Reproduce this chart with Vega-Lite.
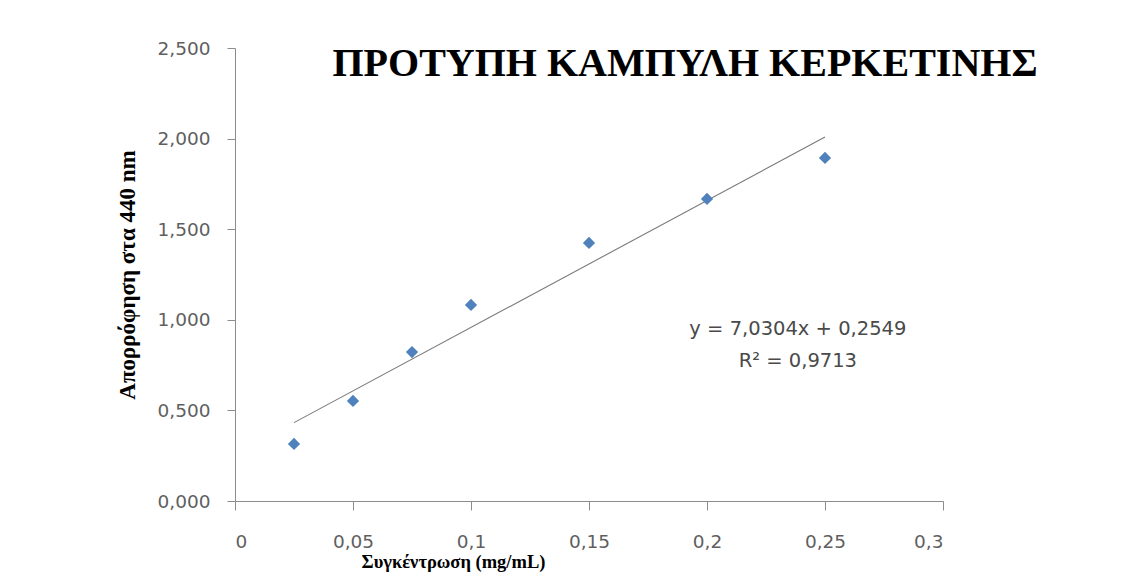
{
  "$schema": "https://vega.github.io/schema/vega-lite/v6.json",
  "width": 708,
  "height": 453,
  "autosize": {"type": "none"},
  "padding": {"left": 235, "top": 48, "right": 191, "bottom": 75},
  "background": "white",
  "config": {
    "locale": {"number": {"decimal": ",", "thousands": ".", "grouping": [3], "currency": ["", " €"]}},
    "view": {"stroke": null},
    "axis": {"grid": false, "domainColor": "#8c8c8c", "tickColor": "#8c8c8c", "labelColor": "#5f5f5f", "labelFont": "DejaVu Sans", "labelFontSize": 18.5, "titleFont": "Liberation Serif", "titleFontWeight": "bold", "titleColor": "#000000"}
  },
  "title": {
    "text": "ΠΡΟΤΥΠΗ ΚΑΜΠΥΛΗ ΚΕΡΚΕΤΙΝΗΣ",
    "font": "Liberation Serif",
    "fontSize": 40,
    "fontWeight": "bold",
    "color": "#000000",
    "anchor": "middle",
    "frame": "group",
    "baseline": "top",
    "offset": -45,
    "dx": 96
  },
  "data": {
    "values": [
      {"c": 0.025, "a": 0.315},
      {"c": 0.05, "a": 0.552},
      {"c": 0.075, "a": 0.822},
      {"c": 0.1, "a": 1.082},
      {"c": 0.15, "a": 1.424},
      {"c": 0.2, "a": 1.667},
      {"c": 0.25, "a": 1.893}
    ]
  },
  "encoding": {
    "x": {"field": "c", "type": "quantitative", "scale": {"domain": [0, 0.3], "nice": false, "zero": true},
      "axis": {"values": [0, 0.05, 0.1, 0.15, 0.2, 0.25, 0.3], "format": "~g", "tickSize": 9, "labelPadding": 22, "title": "Συγκέντρωση (mg/mL)", "titleFontSize": 18.5, "titlePadding": 2, "titleX": 218, "titleAnchor": "middle"}},
    "y": {"field": "a", "type": "quantitative", "scale": {"domain": [0, 2.5], "nice": false},
      "axis": {"values": [0, 0.5, 1, 1.5, 2, 2.5], "format": ".3f", "tickSize": 8, "labelPadding": 17, "title": "Απορρόφηση στα 440 nm", "titleFontSize": 23, "titlePadding": 18}}
  },
  "layer": [
    {
      "transform": [{"regression": "a", "on": "c"}],
      "mark": {"type": "line", "color": "#7a7a7a", "strokeWidth": 1.1},
      "encoding": {}
    },
    {
      "mark": {"type": "point", "shape": "diamond", "filled": true, "color": "#4F81BD", "size": 150, "opacity": 1}
    },
    {
      "data": {"values": [{"c": 0.2385, "a": 0.947, "t": ["y = 7,0304x + 0,2549", "R² = 0,9713"]}]},
      "mark": {"type": "text", "font": "DejaVu Sans", "fontSize": 19.5, "color": "#4a4a4a", "align": "center", "baseline": "middle", "lineHeight": 32},
      "encoding": {"text": {"field": "t"}}
    }
  ]
}
